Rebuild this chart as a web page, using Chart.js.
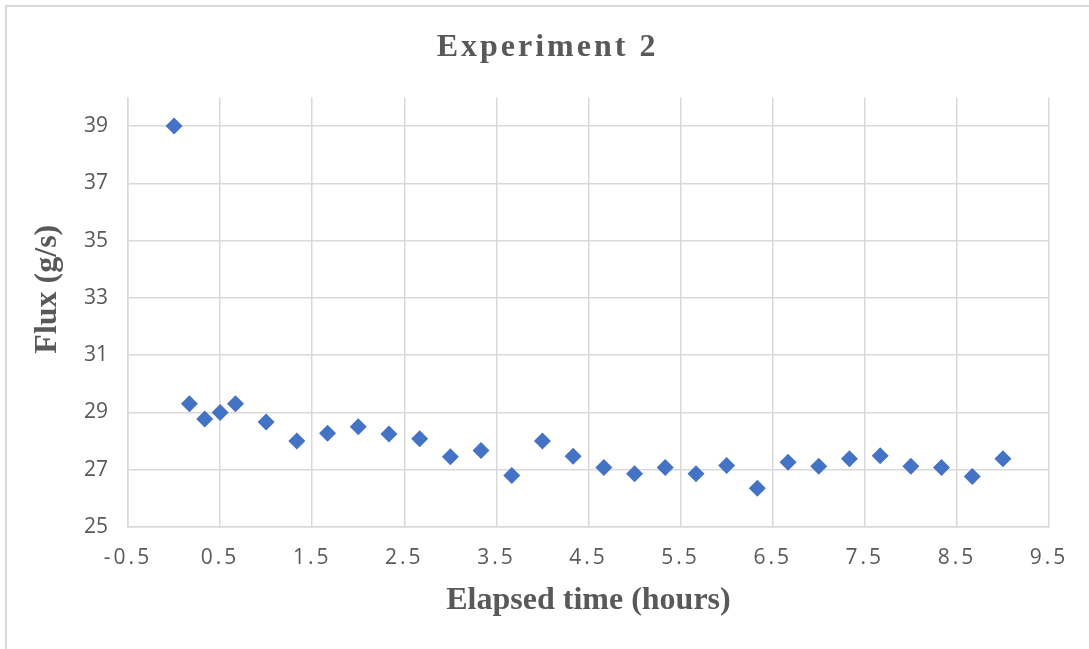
<!DOCTYPE html>
<html>
<head>
<meta charset="utf-8">
<script src="https://cdn.jsdelivr.net/npm/chart.js@4/dist/chart.umd.min.js"></script>
<style>
  html, body { margin: 0; padding: 0; background: #ffffff; }
  #wrap { width: 1089px; height: 649px; position: relative; }
</style>
</head>
<body>
<div id="wrap"><canvas id="c"></canvas></div>
<script>
const chartTitle = "Experiment 2";
const xAxisTitle = "Elapsed time (hours)";
const yAxisTitle = "Flux (g/s)";
const elapsedHours = [0, 0.167, 0.333, 0.5, 0.667, 1, 1.333, 1.667, 2, 2.333, 2.667, 3, 3.333, 3.667, 4, 4.333, 4.667, 5, 5.333, 5.667, 6, 6.333, 6.667, 7, 7.333, 7.667, 8, 8.333, 8.667, 9];
const flux = [39.0, 29.3, 28.77, 29.0, 29.3, 28.67, 28.0, 28.27, 28.5, 28.25, 28.08, 27.45, 27.67, 26.8, 28.0, 27.47, 27.08, 26.86, 27.08, 26.86, 27.15, 26.35, 27.26, 27.12, 27.38, 27.49, 27.12, 27.08, 26.76, 27.38];
const xTicks = [-0.5, 0.5, 1.5, 2.5, 3.5, 4.5, 5.5, 6.5, 7.5, 8.5, 9.5];
const yTicks = [25, 27, 29, 31, 33, 35, 37, 39];

const points = elapsedHours.map((x, i) => ({ x: x, y: flux[i] }));

const GRID = '#d9d9d9';
const TEXT = '#595959';

const decorPlugin = {
  id: 'decor',
  beforeDraw(chart) {
    const ctx = chart.ctx;
    ctx.save();
    ctx.strokeStyle = GRID;
    ctx.lineWidth = 2;
    ctx.beginPath();
    ctx.moveTo(5, 6);
    ctx.lineTo(chart.width, 6);
    ctx.moveTo(6, 6);
    ctx.lineTo(6, chart.height);
    ctx.stroke();
    ctx.restore();

    const xs = chart.scales.x;
    if (xs && !xs._lsWrapped) {
      const orig = xs.drawLabels;
      xs.drawLabels = function (a) {
        const c = this.ctx;
        const prev = c.letterSpacing;
        c.letterSpacing = '3px';
        orig.call(this, a);
        c.letterSpacing = prev || '0px';
      };
      xs._lsWrapped = true;
    }
    const ys = chart.scales.y;
    if (ys && !ys._ttWrapped) {
      const origY = ys.drawTitle;
      ys.drawTitle = function () {
        const c = this.ctx;
        c.save();
        c.translate(0, -23);
        origY.apply(this, arguments);
        c.restore();
      };
      ys._ttWrapped = true;
    }
    const tb = chart.titleBlock;
    if (tb && !tb._lsWrapped) {
      const origT = tb.draw;
      tb.draw = function () {
        const c = this.ctx;
        const prev = c.letterSpacing;
        c.save();
        c.translate(23, 2);
        c.letterSpacing = '3px';
        origT.apply(this, arguments);
        c.letterSpacing = prev || '0px';
        c.restore();
      };
      tb._lsWrapped = true;
    }
  }
};

new Chart(document.getElementById('c'), {
  type: 'scatter',
  data: {
    datasets: [{
      label: 'Flux',
      data: points,
      pointStyle: 'rectRot',
      pointRadius: 8.5,
      pointHoverRadius: 8.5,
      backgroundColor: '#4472C4',
      borderColor: '#4472C4',
      borderWidth: 0
    }]
  },
  options: {
    responsive: true,
    maintainAspectRatio: false,
    animation: false,
    events: [],
    layout: { padding: { left: 0, right: 40, top: 0, bottom: 0 } },
    plugins: {
      legend: { display: false },
      tooltip: { enabled: false },
      title: {
        display: true,
        text: chartTitle,
        color: TEXT,
        font: { family: '"Liberation Serif", "DejaVu Serif", serif', size: 32, weight: 'bold', lineHeight: 1.2 },
        padding: { top: 27, bottom: 32 }
      }
    },
    scales: {
      x: {
        type: 'linear',
        min: -0.5,
        max: 9.5,
        afterBuildTicks: (s) => { s.ticks = xTicks.map(v => ({ value: v })); },
        afterFit: (s) => { s.height = 122; },
        ticks: {
          color: TEXT,
          padding: 18,
          font: { family: '"Open Sans", "Noto Sans", sans-serif', size: 21 },
          callback: (v) => String(v)
        },
        grid: { color: GRID, lineWidth: 1.5, drawTicks: false },
        border: { color: GRID, width: 1.5 },
        title: {
          display: true,
          text: xAxisTitle,
          color: TEXT,
          font: { family: '"Liberation Serif", "DejaVu Serif", serif', size: 32, weight: 'bold', lineHeight: 1.2 },
          padding: { top: 0, bottom: 29 }
        }
      },
      y: {
        type: 'linear',
        min: 25,
        max: 40,
        afterBuildTicks: (s) => { s.ticks = yTicks.map(v => ({ value: v })); },
        afterFit: (s) => { s.width = 128; },
        ticks: {
          color: TEXT,
          padding: 20,
          font: { family: '"Open Sans", "Noto Sans", sans-serif', size: 21 },
          callback: (v) => String(v)
        },
        grid: { color: GRID, lineWidth: 1.5, drawTicks: false },
        border: { color: GRID, width: 1.5 },
        title: {
          display: true,
          text: yAxisTitle,
          color: TEXT,
          font: { family: '"Liberation Serif", "DejaVu Serif", serif', size: 32, weight: 'bold', lineHeight: 1.2 },
          padding: { top: 29, bottom: 0 }
        }
      }
    }
  },
  plugins: [decorPlugin]
});
</script>
</body>
</html>
